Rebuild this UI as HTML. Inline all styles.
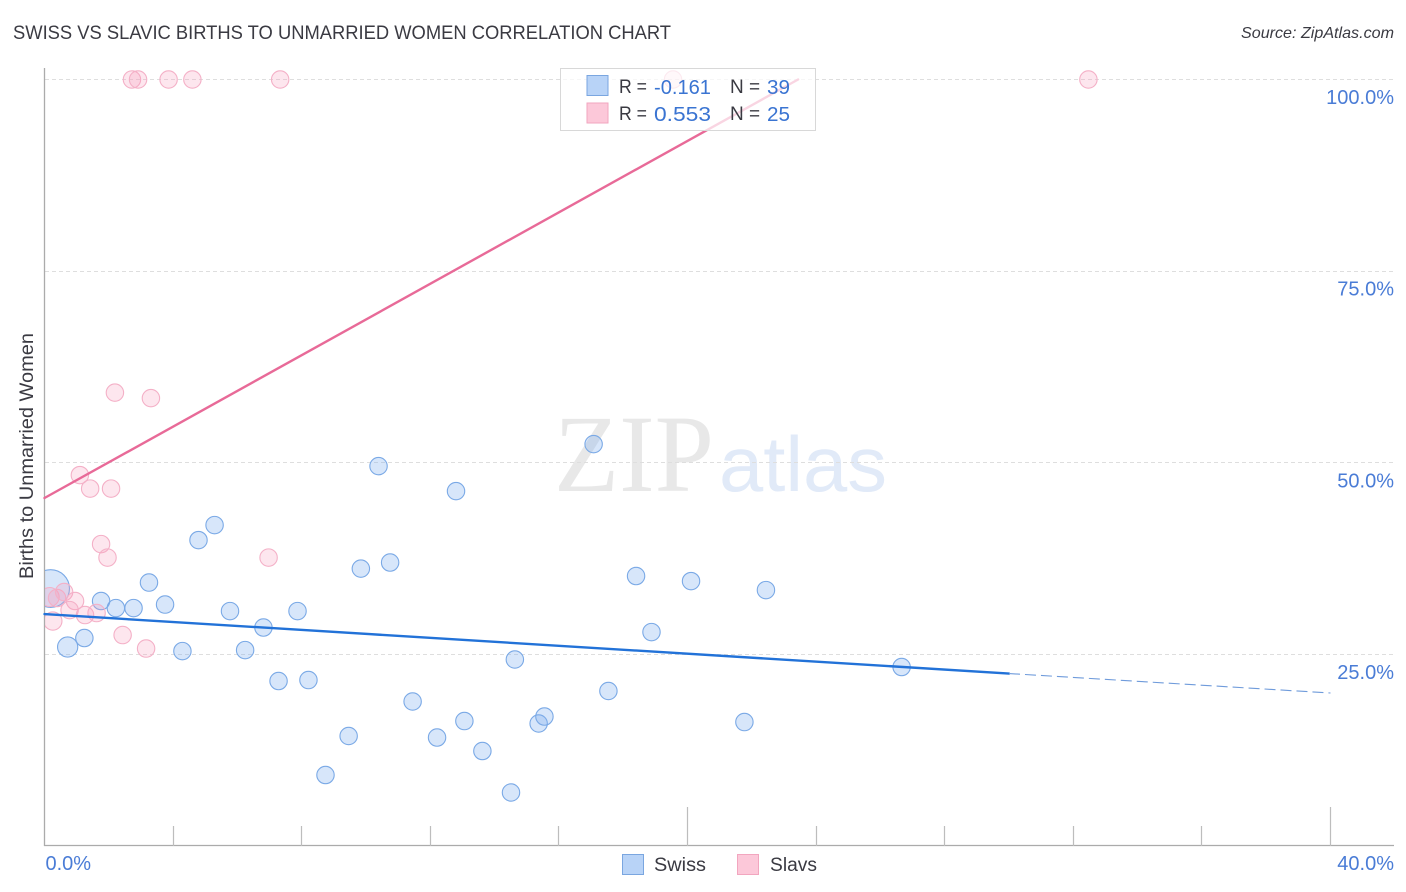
<!DOCTYPE html>
<html lang="en">
<head>
<meta charset="utf-8">
<title>Swiss vs Slavic Births to Unmarried Women Correlation Chart</title>
<style>
html,body{margin:0;padding:0;background:#fff;}
body{width:1406px;height:892px;overflow:hidden;}
svg{display:block;font-family:"Liberation Sans",sans-serif;}
</style>
</head>
<body>
<svg id="chart" xmlns="http://www.w3.org/2000/svg" width="1406" height="892" viewBox="0 0 1406 892">
  <defs>
    <clipPath id="plot-clip"><rect x="45" y="60" width="1349" height="786"></rect></clipPath>
  </defs>
  <text x="13" y="39" font-size="19" fill="#3a3a42" textLength="658" lengthAdjust="spacingAndGlyphs">SWISS VS SLAVIC BIRTHS TO UNMARRIED WOMEN CORRELATION CHART</text>
  <text x="1241" y="38" font-size="16" font-style="italic" fill="#3a3a42" textLength="153" lengthAdjust="spacingAndGlyphs">Source: ZipAtlas.com</text>
  <g>
    <text x="554" y="491" font-size="110" font-family="'Liberation Serif',serif" fill="#e8e8e8" textLength="160" lengthAdjust="spacingAndGlyphs">ZIP</text>
    <text x="719" y="491" font-size="78" fill="#e1eaf8" textLength="168" lengthAdjust="spacingAndGlyphs">atlas</text>
  </g>
  <g id="grid"></g>
  <g id="axes"></g>
  <g id="swiss-points" clip-path="url(#plot-clip)"></g>
  <g id="slavs-points" clip-path="url(#plot-clip)"></g>
  <g id="trends"></g>
  <g id="ylabels"></g>
  <g id="xlabels"></g>
  <text transform="translate(33,456) rotate(-90)" font-size="19" fill="#3a3a42" text-anchor="middle" textLength="246" lengthAdjust="spacingAndGlyphs">Births to Unmarried Women</text>

  <g>
    <rect x="560.5" y="68.5" width="255" height="62" fill="#ffffff" fill-opacity="0.72" stroke="#d8d8d8" stroke-width="1"></rect>
    <rect x="587" y="75.5" width="21" height="20" fill="#b8d3f7" stroke="#7aa6e0" stroke-width="1"></rect>
    <rect x="587" y="103" width="21" height="20" fill="#fcc8d9" stroke="#f2a6bf" stroke-width="1"></rect>
    <text x="619" y="93" font-size="19" fill="#3a3a42" textLength="28" lengthAdjust="spacingAndGlyphs">R =</text>
    <text x="654" y="94" font-size="20.5" fill="#3a74d2" textLength="57" lengthAdjust="spacingAndGlyphs">-0.161</text>
    <text x="730" y="93" font-size="19" fill="#3a3a42">N =</text>
    <text x="767" y="94" font-size="20.5" fill="#3a74d2" textLength="23" lengthAdjust="spacingAndGlyphs">39</text>
    <text x="619" y="120" font-size="19" fill="#3a3a42" textLength="28" lengthAdjust="spacingAndGlyphs">R =</text>
    <text x="654" y="121" font-size="20.5" fill="#3a74d2" textLength="57" lengthAdjust="spacingAndGlyphs">0.553</text>
    <text x="730" y="120" font-size="19" fill="#3a3a42">N =</text>
    <text x="767" y="121" font-size="20.5" fill="#3a74d2" textLength="23" lengthAdjust="spacingAndGlyphs">25</text>
  </g>

  <g>
    <rect x="622.5" y="854.5" width="21" height="20" fill="#b8d3f7" stroke="#7aa6e0" stroke-width="1"></rect>
    <text x="654" y="871" font-size="19" fill="#3a3a42" textLength="52" lengthAdjust="spacingAndGlyphs">Swiss</text>
    <rect x="737.5" y="854.5" width="21" height="20" fill="#fcc8d9" stroke="#f2a6bf" stroke-width="1"></rect>
    <text x="770" y="871" font-size="19" fill="#3a3a42" textLength="47" lengthAdjust="spacingAndGlyphs">Slavs</text>
  </g>
</svg>
<script>
// ---- chart data (percent values) ----
const yGridValues = [100, 75, 50, 25];
const yTickLabels = ["100.0%", "75.0%", "50.0%", "25.0%"];
const xTickValues = [4, 8, 12, 16, 20, 24, 28, 32, 36, 40];
const xMajorTicks = [20, 40];
const xEndValues = [0, 40];
const xEndLabels = ["0.0%", "40.0%"];

const swissX = [0.19,0.72,1.24,1.76,2.22,2.77,3.25,3.75,4.29,4.79,5.29,5.77,6.24,6.81,7.28,7.87,8.21,8.74,9.46,9.84,10.39,10.75,11.45,12.21,12.80,13.06,13.62,14.51,14.63,15.37,15.55,17.08,17.54,18.40,18.88,20.11,21.77,22.44,26.66];
const swissY = [33.59,25.96,27.13,31.96,31.04,31.04,34.37,31.50,25.43,39.91,41.87,30.65,25.56,28.50,21.52,30.65,21.65,9.26,14.35,36.19,49.56,36.98,18.85,14.15,46.30,16.30,12.39,6.98,24.33,15.98,16.89,52.43,20.22,35.22,27.91,34.56,16.17,33.39,23.35];
const swissWeight = [4.7,1.35,1,1,1,1,1,1,1,1,1,1,1,1,1,1,1,1,1,1,1,1,1,1,1,1,1,1,1,1,1,1,1,1,1,1,1,1,1];

const slavsX = [0.16,0.39,0.61,0.95,0.78,1.26,1.62,0.26,2.43,3.16,1.10,1.42,2.07,1.76,1.96,6.97,2.19,3.31,2.72,2.91,3.86,4.60,7.33,19.55,32.47];
const slavsY = [32.48,32.35,33.13,31.96,30.78,30.13,30.39,29.35,27.52,25.76,48.39,46.63,46.63,39.39,37.63,37.63,59.15,58.43,100,100,100,100,100,100,100];
const slavsWeight = [1.2,1,1,1,1,1,1,1.1,1,1,1,1,1,1,1,1,1,1,1,1,1,1,1,1,1];

const swissTrendX = [0, 30, 40];
const swissTrendY = [30.26, 22.5, 19.96];
const slavsTrendX = [0, 23.44];
const slavsTrendY = [45.4, 100];

// ---- axis functions ----
const NS = "http://www.w3.org/2000/svg";
function xScale(v){ return 44.5 + v * 32.15; }
function yScale(v){ return 846 - v * 7.665; }
function rScale(w){ return 8.7 * Math.sqrt(w); }
function make(tag, attrs, parent){
  const el = document.createElementNS(NS, tag);
  for (const k in attrs) el.setAttribute(k, attrs[k]);
  parent.appendChild(el);
  return el;
}

const grid = document.getElementById("grid");
const axes = document.getElementById("axes");
const ylabels = document.getElementById("ylabels");
const xlabels = document.getElementById("xlabels");
const swissG = document.getElementById("swiss-points");
const slavsG = document.getElementById("slavs-points");
const trends = document.getElementById("trends");

yGridValues.forEach(function(v, i){
  const y = Math.round(yScale(v) - 0.5) + 0.5;
  const line = make("line", {x1:45, x2:1394, y1:y, y2:y, stroke:"#dedede", "stroke-width":1, "stroke-dasharray":"4 3"}, grid);
  
  
  const label = make("text", {x:1394, y:yScale(v) + 24.5, "font-size":20, fill:"#4a7cd6", "text-anchor":"end"}, ylabels);
  label.textContent = yTickLabels[i];
  
  
});

const yAxis = make("line", {x1:44.5, x2:44.5, y1:68, y2:846, stroke:"#ababab", "stroke-width":1.3}, axes);


const xAxis = make("line", {x1:44, x2:1394, y1:845.5, y2:845.5, stroke:"#ababab", "stroke-width":1.3}, axes);



xTickValues.forEach(function(v){
  const major = xMajorTicks.indexOf(v) >= 0;
  const x = Math.round(xScale(v) - 0.5) + 0.5;
  const tick = make("line", {x1:x, x2:x, y1:major ? 807 : 826, y2:846, stroke:"#bdbdbd", "stroke-width":1.2}, axes);
  
  
});

xEndValues.forEach(function(v, i){
  const label = make("text", {x:i === 0 ? xScale(v) + 1 : 1394, y:870, "font-size":20, fill:"#4a7cd6", "text-anchor":i === 0 ? "start" : "end"}, xlabels);
  label.textContent = xEndLabels[i];
  
  
});

swissX.forEach(function(v, i){
  const c = make("circle", {cx:xScale(v), cy:yScale(swissY[i]), r:rScale(swissWeight[i]), fill:"#7aabed", "fill-opacity":0.3, stroke:"#7aa9e6", "stroke-width":1.1}, swissG);
  
  
});

slavsX.forEach(function(v, i){
  const c = make("circle", {cx:xScale(v), cy:yScale(slavsY[i]), r:rScale(slavsWeight[i]), fill:"#f7a0bd", "fill-opacity":0.26, stroke:"#f4b0c7", "stroke-width":1.1}, slavsG);
  
  
});

const swissSolid = make("line", {x1:xScale(swissTrendX[0]), y1:yScale(swissTrendY[0]), x2:xScale(swissTrendX[1]), y2:yScale(swissTrendY[1]), stroke:"#2272d8", "stroke-width":2.4, "stroke-linecap":"round"}, trends);


const swissDash = make("line", {x1:xScale(swissTrendX[1]), y1:yScale(swissTrendY[1]), x2:xScale(swissTrendX[2]), y2:yScale(swissTrendY[2]), stroke:"#6f9bdb", "stroke-width":1.1, "stroke-dasharray":"11 5"}, trends);


const slavsLine = make("line", {x1:xScale(slavsTrendX[0]), y1:yScale(slavsTrendY[0]), x2:xScale(slavsTrendX[1]), y2:yScale(slavsTrendY[1]), stroke:"#e86a98", "stroke-width":2.4, "stroke-linecap":"round"}, trends);


</script>
</body>
</html>
